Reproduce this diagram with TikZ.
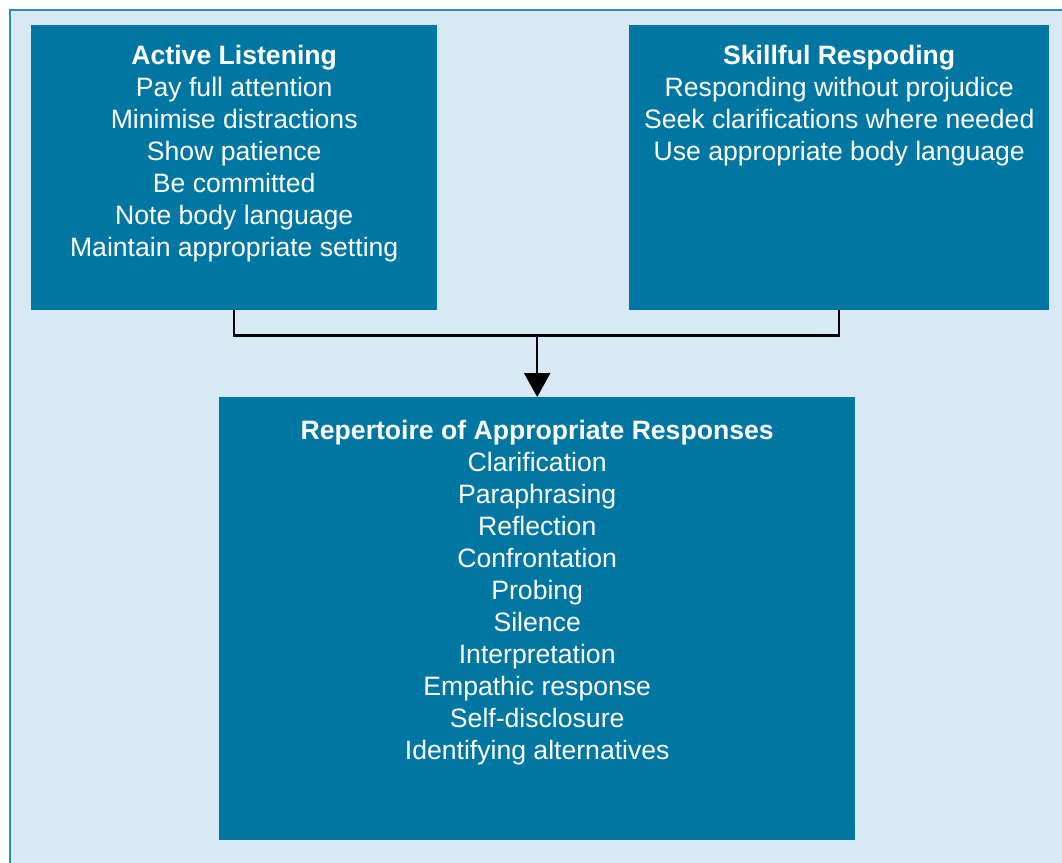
\documentclass[tikz,border=0pt]{standalone}
\usepackage{fontspec}
\setmainfont{Liberation Sans}
\usetikzlibrary{arrows.meta}

\definecolor{boxblue}{RGB}{0,119,163}
\definecolor{panelblue}{RGB}{215,233,243}
\definecolor{edgeblue}{RGB}{43,140,196}
% box text: width, height, first baseline, lines
\newcommand{\boxtext}[4]{\parbox[t][#2][t]{#1}{\centering\rule{0pt}{#3}#4}}

\begin{document}
\begin{tikzpicture}[x=1pt, y=-1pt, box/.style={fill=boxblue, text=white, inner sep=0pt, anchor=north west, font=\fontsize{26.6}{32}\selectfont}, line/.style={black, line width=2.2pt}, arrow/.style={line, -{Triangle[length=24pt, width=26pt]}}]
\useasboundingbox (0,0) rectangle (1062,862);
\draw[edgeblue, line width=1.5pt, fill=panelblue] (10,10) rectangle (1080,880);
\node[box] (listen) at (31,25) {\boxtext{406pt}{285pt}{39pt}{\textbf{Active Listening}\\
    Pay full attention\\
    Minimise distractions\\
    Show patience\\
    Be committed\\
    Note body language\\
    Maintain appropriate setting}};
\node[box] (skill) at (629,25) {\boxtext{420pt}{285pt}{39pt}{\textbf{Skillful Respoding}\\
    Responding without projudice\\
    Seek clarifications where needed\hspace*{14pt}\\
    Use appropriate body language}};
\node[box] (resp) at (219,397) {\boxtext{636pt}{443pt}{42pt}{\textbf{Repertoire of Appropriate Responses}\\
    Clarification\\
    Paraphrasing\\
    Reflection\\
    Confrontation\\
    Probing\\
    Silence\\
    Interpretation\\
    Empathic response\\
    Self-disclosure\\
    Identifying alternatives}};
\draw[line] (listen.south) -- ++(0,25) coordinate (bend) -| (skill.south);
\draw[arrow] (bend -| resp.north) -- (resp.north);
\end{tikzpicture}
\end{document}
